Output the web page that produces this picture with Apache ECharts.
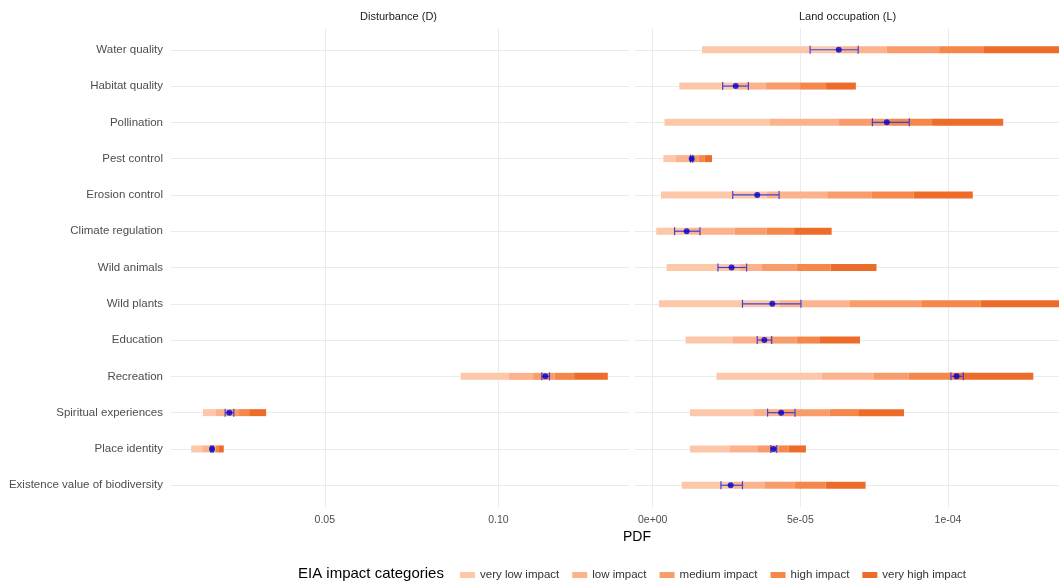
<!DOCTYPE html>
<html><head><meta charset="utf-8">
<script src="https://cdn.jsdelivr.net/npm/echarts@6/dist/echarts.min.js"></script>
<style>html,body{margin:0;padding:0;background:#fff}#c{width:1059px;height:581px}</style>
</head><body><div id="c"></div>
<script>
const categories = ['Water quality','Habitat quality','Pollination','Pest control','Erosion control','Climate regulation','Wild animals','Wild plants','Education','Recreation','Spiritual experiences','Place identity','Existence value of biodiversity'];
const levels = ['very low impact','low impact','medium impact','high impact','very high impact'];

// Disturbance (D) panel: class boundaries (PDF)
const D_start      = [null,null,null,null,null,null,null,null,null,0.0891,0.0149,0.0115,null];
const D_veryLowEnd = [null,null,null,null,null,null,null,null,null,0.1029,0.0186,0.0147,null];
const D_lowEnd     = [null,null,null,null,null,null,null,null,null,0.1100,0.0224,0.0171,null];
const D_mediumEnd  = [null,null,null,null,null,null,null,null,null,0.1162,0.0253,0.0186,null];
const D_highEnd    = [null,null,null,null,null,null,null,null,null,0.1218,0.0282,0.0195,null];
const D_end        = [null,null,null,null,null,null,null,null,null,0.1315,0.0331,0.0209,null];
const D_mean       = [null,null,null,null,null,null,null,null,null,0.1135,0.0225,0.0175,null];
const D_low        = [null,null,null,null,null,null,null,null,null,0.1125,0.0213,0.0172,null];
const D_high       = [null,null,null,null,null,null,null,null,null,0.1147,0.0238,0.0178,null];

// Land occupation (L) panel: values in units of 1e-5 PDF
const L_UNIT = 1e-5;
const L_start      = [1.67,0.90,0.40,0.36,0.28,0.12,0.47,0.21,1.11,2.16,1.26,1.26,0.98];
const L_veryLowEnd = [6.34,2.84,3.97,0.79,3.86,1.26,2.96,4.31,2.71,5.72,3.43,2.60,2.73];
const L_lowEnd     = [7.92,3.84,6.31,1.35,5.91,2.77,3.70,6.68,3.97,7.49,4.31,3.54,3.78];
const L_mediumEnd  = [9.70,4.99,8.04,1.55,7.42,3.86,4.88,9.12,4.88,8.66,6.00,4.26,4.82];
const L_highEnd    = [11.22,5.87,9.46,1.75,8.83,4.79,6.02,11.11,5.64,10.18,6.96,4.61,5.86];
const L_end        = [14.5,6.88,11.87,2.01,10.84,6.06,7.58,14.5,7.02,12.89,8.51,5.19,7.21];
const L_mean       = [6.30,2.81,7.93,1.32,3.54,1.15,2.67,4.05,3.78,10.29,4.35,4.09,2.64];
const L_low        = [5.33,2.37,7.44,1.28,2.71,0.74,2.21,3.04,3.54,10.10,3.89,4.00,2.31];
const L_high       = [6.96,3.24,8.69,1.36,4.28,1.60,3.18,5.02,4.03,10.52,4.82,4.20,3.04];

const D_ticks = [0.05, 0.10];
const D_tickLabels = ['0.05', '0.10'];
const L_ticks = [0, 5e-5, 1e-4];
const L_tickLabels = ['0e+00', '5e-05', '1e-04'];

const levelColors = ['#fdc7a9','#fcb28d','#f99c6b','#f5874b','#ee6c2a'];

const D_bounds = [D_start, D_veryLowEnd, D_lowEnd, D_mediumEnd, D_highEnd, D_end];
const L_bounds = [L_start, L_veryLowEnd, L_lowEnd, L_mediumEnd, L_highEnd, L_end];

function segData(bounds, level, scale) {
  const out = [];
  categories.forEach((c, i) => {
    const a = bounds[level][i], b = bounds[level + 1][i];
    if (a != null && b != null) out.push([a * scale, b * scale, i]);
  });
  return out;
}
function errData(lo, hi, scale) {
  const out = [];
  categories.forEach((c, i) => { if (lo[i] != null) out.push([lo[i] * scale, hi[i] * scale, i]); });
  return out;
}
function ptData(m, scale) {
  const out = [];
  categories.forEach((c, i) => { if (m[i] != null) out.push([m[i] * scale, i]); });
  return out;
}

function renderSeg(params, api) {
  const y = api.value(2);
  const a = api.coord([api.value(0), y]);
  const b = api.coord([api.value(1), y]);
  const cs = params.coordSys;
  const r = echarts.graphic.clipRectByRect(
    {x: a[0], y: a[1] - 3.5, width: b[0] - a[0], height: 7},
    {x: cs.x, y: cs.y, width: cs.width, height: cs.height});
  if (!r) return;
  return {type: 'rect', shape: r, style: {fill: api.visual('color')}};
}
function renderErr(params, api) {
  const y = api.value(2);
  const a = api.coord([api.value(0), y]);
  const b = api.coord([api.value(1), y]);
  const st = {stroke: '#4343d2', lineWidth: 1.2};
  return {type: 'group', children: [
    {type: 'line', shape: {x1: a[0], y1: a[1], x2: b[0], y2: b[1]}, style: st},
    {type: 'line', shape: {x1: a[0], y1: a[1] - 4, x2: a[0], y2: a[1] + 4}, style: st},
    {type: 'line', shape: {x1: b[0], y1: b[1] - 4, x2: b[0], y2: b[1] + 4}, style: st}
  ]};
}

const series = [];
[[D_bounds, 1, 0], [L_bounds, L_UNIT, 1]].forEach(([bounds, scale, gi]) => {
  levels.forEach((lv, k) => {
    series.push({
      type: 'custom', name: lv, xAxisIndex: gi, yAxisIndex: gi,
      renderItem: renderSeg, itemStyle: {color: levelColors[k]},
      encode: {x: [0, 1], y: 2}, data: segData(bounds, k, scale), z: 2, silent: true
    });
  });
});
[[D_low, D_high, D_mean, 1, 0], [L_low, L_high, L_mean, L_UNIT, 1]].forEach(([lo, hi, m, scale, gi]) => {
  series.push({type: 'custom', name: 'err', xAxisIndex: gi, yAxisIndex: gi, renderItem: renderErr,
    encode: {x: [0, 1], y: 2}, data: errData(lo, hi, scale), z: 3, silent: true});
  series.push({type: 'scatter', name: 'mean', xAxisIndex: gi, yAxisIndex: gi, symbolSize: 6,
    itemStyle: {color: '#0000cd'}, data: ptData(m, scale), z: 4, silent: true});
});

function fmt(ticks, labels) {
  return v => { const i = ticks.findIndex(t => Math.abs(t - v) < Math.max(1e-12, Math.abs(t) * 1e-6)); return i >= 0 ? labels[i] : ''; };
}
const catIdx = categories.map((c, i) => i);
const FONT = '"Liberation Sans", Arial, sans-serif';
const grid = {color: '#ebebeb', width: 1};

const option = {
  animation: false,
  backgroundColor: '#ffffff',
  textStyle: {fontFamily: FONT},
  grid: [
    {left: 171, width: 458, top: 28, height: 479},
    {left: 635, width: 424, top: 28, height: 479}
  ],
  xAxis: [
    {type: 'value', gridIndex: 0, min: 0.0057, max: 0.1376,
      axisLine: {show: false}, axisTick: {show: false, customValues: D_ticks},
      axisLabel: {customValues: D_ticks, formatter: fmt(D_ticks, D_tickLabels), color: '#4d4d4d', fontSize: 10.5, margin: 8, fontFamily: FONT},
      splitLine: {show: true, lineStyle: grid}},
    {type: 'value', gridIndex: 1, min: -0.6e-5, max: 13.76e-5,
      axisLine: {show: false}, axisTick: {show: false, customValues: L_ticks},
      axisLabel: {customValues: L_ticks, formatter: fmt(L_ticks, L_tickLabels), color: '#4d4d4d', fontSize: 10.5, margin: 8, fontFamily: FONT},
      splitLine: {show: true, lineStyle: grid}}
  ],
  yAxis: [
    {type: 'value', gridIndex: 0, min: -0.6, max: 12.6, inverse: true,
      axisLine: {show: false}, axisTick: {show: false, customValues: catIdx},
      axisLabel: {customValues: catIdx, formatter: v => categories[Math.round(v)], color: '#4d4d4d', fontSize: 11.5, margin: 8, fontFamily: FONT},
      splitLine: {show: true, lineStyle: grid}},
    {type: 'value', gridIndex: 1, min: -0.6, max: 12.6, inverse: true,
      axisLine: {show: false}, axisTick: {show: false, customValues: catIdx},
      axisLabel: {show: false, customValues: catIdx},
      splitLine: {show: true, lineStyle: grid}}
  ],
  legend: {
    data: levels, left: 455, top: 564, icon: 'rect', itemWidth: 15, itemHeight: 6, itemGap: 13,
    selectedMode: false,
    textStyle: {color: '#333333', fontSize: 11.5, fontFamily: FONT}
  },
  graphic: [
    {type: 'text', left: 400 - 40, top: 11, style: {text: 'Disturbance (D)', fill: '#1a1a1a', fontSize: 11, fontFamily: FONT}},
    {type: 'text', left: 847 - 48, top: 11, style: {text: 'Land occupation (L)', fill: '#1a1a1a', fontSize: 11, fontFamily: FONT}},
    {type: 'text', left: 623, top: 530, style: {text: 'PDF', fill: '#000000', fontSize: 14, fontFamily: FONT}},
    {type: 'text', left: 298, top: 566, style: {text: 'EIA impact categories', fill: '#000000', fontSize: 15, fontFamily: FONT}}
  ],
  series: series
};
const chart = echarts.init(document.getElementById('c'), null, {renderer: 'canvas'});
chart.setOption(option);
</script>
</body></html>
